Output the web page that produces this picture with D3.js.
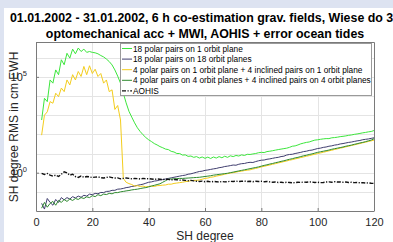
<!DOCTYPE html>
<html>
<head>
<meta charset="utf-8">
<script src="https://cdn.jsdelivr.net/npm/d3@7"></script>
<style>
  body { margin: 0; background: #dde3f1; }
  svg { display: block; font-family: "Liberation Sans", Arial, sans-serif; }
</style>
</head>
<body>
<svg id="chart" width="393" height="242"></svg>
<script>
// SH degrees 2..120
var degrees = d3.range(2, 121);

// 18 polar pairs on 1 orbit plane
var polar18plane1 = [
  5.6e2, 7.6e3, 5.1e3, 6.9e4, 4.7e4, 2.3e5, 1.3e5, 7.8e5, 4.3e5, 1.7e6,
  9.5e5, 2.8e6, 1.6e6, 3.2e6, 2.1e6, 2.8e6, 1.9e6, 2.1e6, 1.9e6, 1.8e6,
  1.6e6, 1.3e6, 1.1e6, 8.5e5, 6.3e5, 4.2e5, 2.3e5, 1.1e5, 4.7e4, 1.4e4,
  4.4e3, 1.6e3, 7.9e2, 4.0e2, 2.2e2, 1.4e2, 95, 68, 52, 42,
  33, 28, 23, 20, 17, 16, 13, 12, 10, 10,
  8.3, 8.5, 7.1, 7.4, 6.3, 6.9, 5.8, 6.6, 5.6, 6.5,
  5.5, 6.6, 5.8, 6.9, 6.0, 7.2, 6.3, 7.6, 6.9, 7.9,
  7.4, 8.5, 7.9, 9.1, 8.9, 9.5, 10, 11, 11.5, 11.2,
  12.6, 13.2, 14, 15, 16, 17, 18, 19, 21, 24,
  25, 28, 32, 35, 38, 40, 45, 50, 52, 55,
  58, 60, 60, 66, 68, 71, 76, 79, 83, 89,
  93, 100, 105, 112, 120, 126, 135, 141, 158
];

// 18 polar pairs on 18 orbit planes
var polar18plane18 = [
  0.025, 0.0126, 0.045, 0.028, 0.020, 0.040, 0.028, 0.050, 0.038, 0.050,
  0.042, 0.056, 0.048, 0.060, 0.052, 0.066, 0.060, 0.076, 0.071, 0.083,
  0.079, 0.093, 0.091, 0.105, 0.107, 0.120, 0.120, 0.138, 0.141, 0.151,
  0.166, 0.174, 0.191, 0.200, 0.219, 0.234, 0.251, 0.282, 0.316, 0.331,
  0.363, 0.380, 0.417, 0.437, 0.468, 0.501, 0.537, 0.575, 0.617, 0.661,
  0.708, 0.741, 0.832, 0.871, 0.955, 1.05, 1.15, 1.20, 1.32, 1.38,
  1.48, 1.58, 1.66, 1.82, 1.91, 2.09, 2.19, 2.34, 2.51, 2.45,
  2.75, 2.95, 3.02, 3.31, 3.47, 3.40, 3.80, 4.17, 4.47, 4.57,
  5.01, 5.25, 5.62, 6.03, 6.31, 6.92, 7.24, 8.32, 8.91, 9.12,
  10.0, 10.7, 11.5, 12.6, 13.2, 14.5, 15.1, 16.6, 18.2, 19.1,
  20.9, 21.9, 24.0, 25.1, 27.5, 28.8, 31.6, 33.1, 35.5, 38.0,
  39.8, 42.7, 45.7, 47.9, 52.5, 55.0, 57.5, 61.7, 66.1
];

// 4 polar pairs on 1 orbit plane + 4 inclined pairs on 1 orbit plane
var polar4incl4plane1 = [
  91, 1.0e3, 1.5e3, 5.1e3, 4.2e3, 1.4e4, 9.3e3, 2.6e4, 1.7e4, 6.9e4,
  3.8e4, 1.3e5, 6.9e4, 1.9e5, 1.05e5, 3.5e5, 1.3e5, 3.8e5, 1.5e5, 2.5e5,
  1.05e5, 1.5e5, 4.7e4, 6.9e4, 1.7e4, 2.1e4, 2.0e3, 3.2e3, 5.6e2, 0.50,
  0.316, 0.269, 0.24, 0.20, 0.21, 0.19, 0.20, 0.18, 0.19, 0.20,
  0.19, 0.21, 0.214, 0.224, 0.229, 0.251, 0.251, 0.275, 0.288, 0.302,
  0.316, 0.339, 0.355, 0.380, 0.398, 0.398, 0.417, 0.457, 0.501, 0.525,
  0.575, 0.603, 0.661, 0.708, 0.759, 0.832, 0.891, 0.955, 1.00, 1.07,
  1.15, 1.20, 1.29, 1.35, 1.41, 1.55, 1.66, 1.82, 2.00, 2.14,
  2.34, 2.51, 2.75, 2.95, 3.24, 3.47, 3.80, 4.07, 4.47, 4.79,
  5.25, 5.62, 6.17, 6.61, 7.24, 7.76, 8.51, 9.12, 10.0, 10.7,
  11.7, 12.6, 13.8, 14.8, 16.2, 17.4, 19.1, 20.4, 22.4, 24.0,
  26.3, 28.2, 30.9, 33.1, 36.3, 38.9, 42.7, 45.7, 50.1
];

// 4 polar pairs on 4 orbit planes + 4 inclined pairs on 4 orbit planes
var polar4incl4plane4 = [
  0.0141, 0.028, 0.0158, 0.025, 0.0316, 0.020, 0.0355, 0.028, 0.040, 0.0316,
  0.042, 0.0355, 0.045, 0.040, 0.050, 0.045, 0.055, 0.050, 0.063, 0.056,
  0.071, 0.063, 0.076, 0.072, 0.083, 0.079, 0.091, 0.091, 0.100, 0.105,
  0.112, 0.117, 0.126, 0.132, 0.138, 0.148, 0.158, 0.166, 0.182, 0.200,
  0.219, 0.240, 0.263, 0.316, 0.380, 0.457, 0.468, 0.479, 0.490, 0.501,
  0.501, 0.513, 0.525, 0.537, 0.550, 0.562, 0.575, 0.603, 0.631, 0.661,
  0.692, 0.741, 0.776, 0.813, 0.851, 0.891, 0.933, 1.00, 1.07, 1.15,
  1.23, 1.32, 1.41, 1.51, 1.62, 1.74, 1.86, 2.00, 2.19, 2.40,
  2.57, 2.82, 3.02, 3.31, 3.55, 3.89, 4.17, 4.57, 5.01, 5.37,
  5.89, 6.31, 6.92, 7.59, 8.13, 8.91, 9.55, 10.5, 11.5, 12.3,
  13.2, 14.1, 15.1, 16.6, 17.8, 19.1, 20.4, 21.9, 24.0, 25.7,
  27.5, 30.2, 32.4, 35.5, 38.0, 41.7, 45.7, 50.1, 58.9
];

// AOHIS signal
var aohis = [
  0.912, 0.813, 0.912, 0.741, 0.661, 0.741, 0.631, 0.832, 1.10, 0.977,
  0.741, 0.832, 0.631, 0.562, 0.661, 0.575, 0.631, 0.603, 0.562, 0.589,
  0.603, 0.550, 0.525, 0.562, 0.603, 0.550, 0.525, 0.537, 0.479, 0.501,
  0.525, 0.501, 0.479, 0.501, 0.490, 0.468, 0.501, 0.479, 0.490, 0.468,
  0.447, 0.468, 0.457, 0.437, 0.457, 0.447, 0.417, 0.437, 0.427, 0.407,
  0.417, 0.398, 0.380, 0.398, 0.372, 0.355, 0.347, 0.363, 0.339, 0.355,
  0.331, 0.347, 0.339, 0.324, 0.347, 0.331, 0.339, 0.355, 0.347, 0.363,
  0.347, 0.355, 0.363, 0.347, 0.355, 0.339, 0.355, 0.347, 0.355, 0.339,
  0.347, 0.331, 0.316, 0.324, 0.309, 0.316, 0.302, 0.316, 0.309, 0.295,
  0.302, 0.316, 0.309, 0.324, 0.316, 0.331, 0.324, 0.309, 0.316, 0.302,
  0.309, 0.324, 0.331, 0.316, 0.339, 0.324, 0.331, 0.316, 0.324, 0.309,
  0.316, 0.302, 0.309, 0.295, 0.302, 0.288, 0.295, 0.282, 0.275
];

var legendLabels = [
  '18 polar pairs on 1 orbit plane',
  '18 polar pairs on 18 orbit planes',
  '4 polar pairs on 1 orbit plane + 4 inclined pairs on 1 orbit plane',
  '4 polar pairs on 4 orbit planes + 4 inclined pairs on 4 orbit planes',
  'AOHIS'
];
var seriesColors = ['#3ce63c', '#3f3d6e', '#f3cd1d', '#2f8a2f', '#111111'];
var xTicks = [0, 20, 40, 60, 80, 100, 120];
var yTicks = [1e0, 1e5];
var yGrid = [1e-1, 1e0, 1e1, 1e2, 1e3, 1e4, 1e5, 1e6];
var titleLines = [
  '01.01.2002 - 31.01.2002, 6 h co-estimation grav. fields, Wiese do 30',
  'optomechanical acc + MWI, AOHIS + error ocean tides'
];

var series = [polar18plane1, polar18plane18, polar4incl4plane1, polar4incl4plane4, aohis];

var svg = d3.select('#chart');
var pLeft = 36, pRight = 374, pTop = 42, pBottom = 211;

var x = d3.scaleLinear().domain([0, 120]).range([pLeft, pRight]);
var y = d3.scaleLog().domain([1e-2, 6.6e6]).range([pBottom, pTop]);

// white figure area
svg.append('rect').attr('x', 4).attr('y', 8).attr('width', 389).attr('height', 234).attr('fill', '#fff');

// grid
var grid = svg.append('g');
grid.selectAll('.gx').data(xTicks.slice(1, -1)).enter().append('line')
  .attr('x1', function (d) { return Math.round(x(d)) + 0.5; })
  .attr('x2', function (d) { return Math.round(x(d)) + 0.5; })
  .attr('y1', pTop).attr('y2', pBottom)
  .attr('stroke', '#e4e4e4').attr('stroke-width', 1);
grid.selectAll('.gy').data(yGrid).enter().append('line')
  .attr('x1', pLeft).attr('x2', pRight)
  .attr('y1', function (d) { return Math.round(y(d)) + 0.5; })
  .attr('y2', function (d) { return Math.round(y(d)) + 0.5; })
  .attr('stroke', '#e4e4e4').attr('stroke-width', 1);

// lines
svg.append('clipPath').attr('id', 'clip').append('rect')
  .attr('x', pLeft).attr('y', pTop).attr('width', pRight - pLeft).attr('height', pBottom - pTop);

var line = d3.line()
  .x(function (d, i) { return x(degrees[i]); })
  .y(function (d) { return y(d); });

var plot = svg.append('g').attr('clip-path', 'url(#clip)');
series.forEach(function (s, i) {
  plot.append('path')
    .attr('d', line(s))
    .attr('fill', 'none')
    .attr('stroke', seriesColors[i])
    .attr('stroke-width', i === 4 ? 1.4 : 1)
    .attr('stroke-dasharray', i === 4 ? '4,1.5,1.2,1.5' : null);
});

// axes
var xAxis = d3.axisBottom(x).tickValues(xTicks).tickSizeInner(-3).tickSizeOuter(0).tickPadding(7);
var gx = svg.append('g').attr('transform', 'translate(0,' + pBottom + ')').call(xAxis);
gx.selectAll('text').attr('font-size', 11).attr('fill', '#262626').attr('font-family', '"Liberation Sans", Arial, sans-serif');

var yAxis = d3.axisLeft(y).tickValues(yTicks).tickSizeInner(-3).tickSizeOuter(0).tickPadding(5)
  .tickFormat(function () { return ''; });
var gy = svg.append('g').attr('transform', 'translate(' + pLeft + ',0)').call(yAxis);
gy.selectAll('.tick text').each(function (d) {
  var t = d3.select(this).attr('font-size', 11).attr('fill', '#262626')
    .attr('font-family', '"Liberation Sans", Arial, sans-serif').attr('dx', -4);
  t.append('tspan').text('10');
  t.append('tspan').attr('dy', -5).attr('font-size', 7.5).text(Math.round(Math.log10(d)));
});
[gx, gy].forEach(function (g) {
  g.selectAll('.domain, .tick line').attr('stroke', '#7a7a7a');
});
// box top and right
svg.append('path')
  .attr('d', 'M' + pLeft + ',' + (pTop + 0.5) + 'H' + (pRight + 0.5) + 'V' + pBottom)
  .attr('fill', 'none').attr('stroke', '#7a7a7a');

// title
svg.selectAll('.title').data(titleLines).enter().append('text')
  .attr('x', 205).attr('y', function (d, i) { return 22 + i * 16; })
  .attr('text-anchor', 'middle').attr('font-size', 12.4).attr('font-weight', 'bold')
  .attr('fill', '#000').text(function (d) { return d; });

// axis labels
svg.append('text').attr('x', 205).attr('y', 240).attr('text-anchor', 'middle')
  .attr('font-size', 12).attr('fill', '#262626').text('SH degree');
svg.append('text').attr('transform', 'translate(18,127) rotate(-90)').attr('text-anchor', 'middle')
  .attr('font-size', 12).attr('fill', '#262626').text('SH degree RMS in cm EWH');

// legend
var lg = svg.append('g');
lg.append('rect').attr('x', 120.5).attr('y', 43.5).attr('width', 251).attr('height', 52)
  .attr('fill', '#fff').attr('stroke', '#9a9a9a').attr('stroke-width', 1);
legendLabels.forEach(function (lab, i) {
  var cy = 48.5 + i * 10.6;
  lg.append('line').attr('x1', 122).attr('x2', 132).attr('y1', cy).attr('y2', cy)
    .attr('stroke', seriesColors[i]).attr('stroke-width', i === 4 ? 1.4 : 1)
    .attr('stroke-dasharray', i === 4 ? '4,1.5,1.2,1.5' : null);
  lg.append('text').attr('x', 133).attr('y', cy + 3).attr('font-size', 8.3)
    .attr('fill', '#000').text(lab);
});
</script>
</body>
</html>
